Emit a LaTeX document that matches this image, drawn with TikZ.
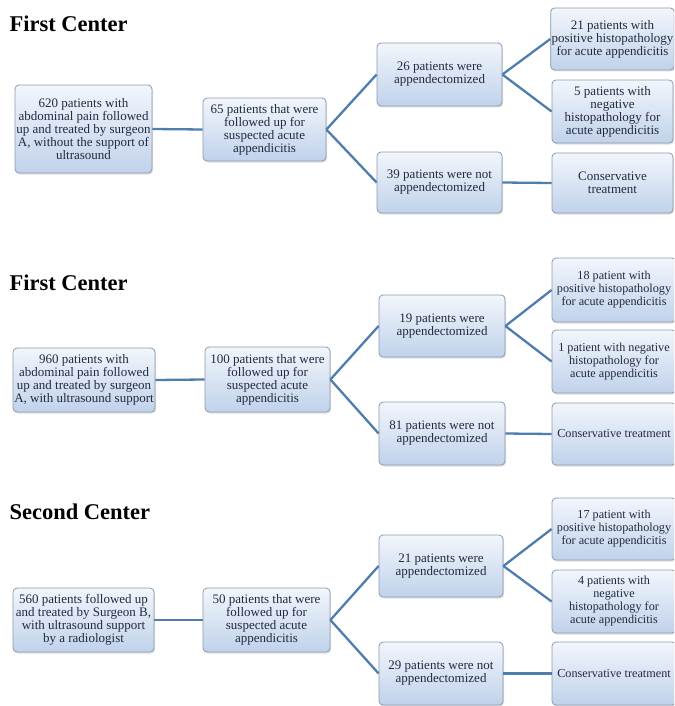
\documentclass[tikz,border=0pt]{standalone}
\usepackage{fontspec}
\setmainfont{Liberation Serif}
\usetikzlibrary{shadows}

\definecolor{boxtop}{HTML}{F2F6FC}
\definecolor{boxbot}{HTML}{C0D2EA}
\definecolor{boxrim}{HTML}{8C9BB2}
\definecolor{boxtext}{HTML}{232A40}
\definecolor{link}{HTML}{4F7DAE}

\tikzset{
  box/.style={draw=boxrim,line width=0.8pt,rounded corners=4pt,top color=boxtop,bottom color=boxbot,
    drop shadow={opacity=0.25,shadow xshift=1pt,shadow yshift=-1.5pt},
    text=boxtext,align=center,inner sep=1pt,minimum height=63pt,
    font=\fontsize{13}{13}\selectfont},
  edgebox/.style={box,minimum width=124pt,font=\fontsize{12.2}{13}\selectfont},
  title/.style={anchor=west,font=\fontsize{22.5}{24}\selectfont\bfseries},
  link/.style={draw=link,line width=2.3pt}
}

\begin{document}
\begin{tikzpicture}[x=1pt,y=-1pt]
\useasboundingbox (0,0) rectangle (674,706);
\clip (0,0) rectangle (674,706);
\fill[white] (0,0) rectangle (674,706);

% first center, without ultrasound
\node[title] (t1) at (6,24) {First Center};
\node[box,minimum width=137pt,minimum height=88pt] (p1a) at (83.5,129) {620 patients with\\abdominal pain followed\\up and treated by surgeon\\A, without the support of\\ultrasound};
\node[box,minimum width=123pt] (p1b) at (264.5,129.5) {65 patients that were\\followed up for\\suspected acute\\appendicitis};
\node[box,minimum width=125pt] (p1c) at (439.5,74.5) {26 patients were\\appendectomized};
\node[box,minimum width=125pt,minimum height=61pt] (p1d) at (439.5,182.5) {39 patients were not\\appendectomized};
\node[box,minimum width=121pt,minimum height=62pt] (p1e) at (612.5,39) {21 patients with\\positive histopathology\\for acute appendicitis};
\node[box,minimum width=121pt] (p1f) at (612.5,111.5) {5 patients with\\negative\\histopathology for\\acute appendicitis};
\node[box,minimum width=121pt,minimum height=60pt] (p1g) at (612.5,183) {Conservative\\treatment};
\draw[link] (p1a.east) -- (p1b.west);
\draw[link] (p1b.east) -- (p1c.west);
\draw[link] (p1b.east) -- (p1d.west);
\draw[link] (p1c.east) -- (p1e.west);
\draw[link] (p1c.east) -- (p1f.west);
\draw[link] (p1d.east) -- (p1g.west);

% first center, with ultrasound
\node[title] (t2) at (6,283) {First Center};
\node[box,minimum width=142pt,minimum height=64pt] (p2a) at (84,380) {960 patients with\\abdominal pain followed\\up and treated by surgeon\\A, with ultrasound support};
\node[box,minimum width=125pt,minimum height=65pt] (p2b) at (267.5,379.5) {100 patients that were\\followed up for\\suspected acute\\appendicitis};
\node[box,minimum width=126pt,minimum height=62pt] (p2c) at (442,326) {19 patients were\\appendectomized};
\node[box,minimum width=126pt] (p2d) at (442,433.5) {81 patients were not\\appendectomized};
\node[edgebox,minimum height=64pt] (p2e) at (614,290) {18 patient with\\positive histopathology\\for acute appendicitis};
\node[edgebox] (p2f) at (614,361.5) {1 patient with negative\\histopathology for\\acute appendicitis};
\node[edgebox,minimum height=62pt] (p2g) at (614,434) {Conservative treatment};
\draw[link] (p2a.east) -- (p2b.west);
\draw[link] (p2b.east) -- (p2c.west);
\draw[link] (p2b.east) -- (p2d.west);
\draw[link] (p2c.east) -- (p2e.west);
\draw[link] (p2c.east) -- (p2f.west);
\draw[link] (p2d.east) -- (p2g.west);

% second center
\node[title] (t3) at (6,512) {Second Center};
\node[box,minimum width=141pt,minimum height=64pt] (p3a) at (83.5,620) {560 patients followed up\\and treated by Surgeon B,\\with ultrasound support\\by a radiologist};
\node[box,minimum width=127pt,minimum height=64pt] (p3b) at (266.5,620) {50 patients that were\\followed up for\\suspected acute\\appendicitis};
\node[box,minimum width=124pt,minimum height=62pt] (p3c) at (441,566) {21 patients were\\appendectomized};
\node[box,minimum width=124pt] (p3d) at (441,673.5) {29 patients were not\\appendectomized};
\node[edgebox,minimum height=62pt] (p3e) at (614,529) {17 patient with\\positive histopathology\\for acute appendicitis};
\node[edgebox] (p3f) at (614,601.5) {4 patients with\\negative\\histopathology for\\acute appendicitis};
\node[edgebox] (p3g) at (614,673.5) {Conservative treatment};
\draw[link] (p3a.east) -- (p3b.west);
\draw[link] (p3b.east) -- (p3c.west);
\draw[link] (p3b.east) -- (p3d.west);
\draw[link] (p3c.east) -- (p3e.west);
\draw[link] (p3c.east) -- (p3f.west);
\draw[link] (p3d.east) -- (p3g.west);
\end{tikzpicture}
\end{document}
